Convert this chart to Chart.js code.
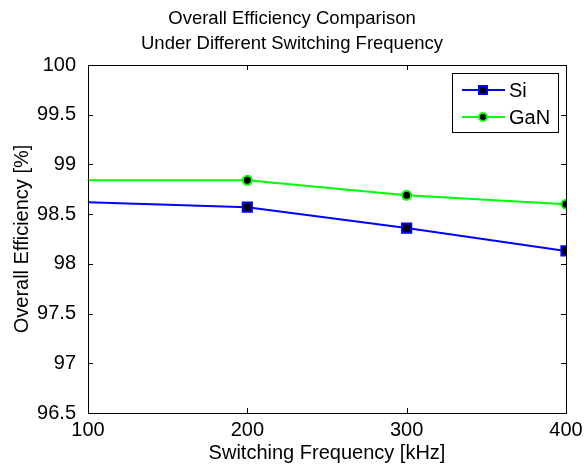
<!DOCTYPE html>
<html>
<head>
<meta charset="utf-8">
<script src="https://cdn.jsdelivr.net/npm/chart.js@4/dist/chart.umd.min.js"></script>
<style>
  body { margin: 0; background: #fff; }
  canvas { display: block; }
</style>
</head>
<body>
<canvas id="chart" width="584" height="466"></canvas>
<script>
const frequencies = [100, 200, 300, 400];
const siEfficiency = [98.62, 98.57, 98.36, 98.13];
const ganEfficiency = [98.84, 98.84, 98.69, 98.60];
const yTicks = [96.5, 97, 97.5, 98, 98.5, 99, 99.5, 100];
const titleLines = ["Overall Efficiency Comparison", "Under Different Switching Frequency"];

const FONT = "Liberation Sans, Arial, sans-serif";

const toPoints = (vals) => vals.map((v, i) => ({ x: frequencies[i], y: v }));

// first point sits on the axis edge with no marker in the reference
const hideFirst = (r) => (ctx) => (ctx.dataIndex === 0 ? 0 : r);

const boxPlugin = {
  id: "box",
  afterDraw(chart) {
    const { ctx, chartArea: a, scales } = chart;
    ctx.save();
    ctx.strokeStyle = "#000";
    ctx.lineWidth = 1;
    ctx.strokeRect(a.left + 0.5, a.top + 0.5, a.right - a.left, a.bottom - a.top);
    ctx.beginPath();
    const t = 5;
    frequencies.forEach((f) => {
      const x = Math.round(scales.x.getPixelForValue(f)) + 0.5;
      ctx.moveTo(x, a.bottom); ctx.lineTo(x, a.bottom - t);
      ctx.moveTo(x, a.top); ctx.lineTo(x, a.top + t);
    });
    yTicks.forEach((v) => {
      const y = Math.round(scales.y.getPixelForValue(v)) + 0.5;
      ctx.moveTo(a.left, y); ctx.lineTo(a.left + t, y);
      ctx.moveTo(a.right, y); ctx.lineTo(a.right - t, y);
    });
    ctx.stroke();

    // title
    ctx.fillStyle = "#000";
    ctx.font = "18.5px " + FONT;
    ctx.textAlign = "center";
    ctx.textBaseline = "middle";
    ctx.fillText(titleLines[0], chart.width / 2, 19);
    ctx.fillText(titleLines[1], chart.width / 2, 44);

    // legend
    const lx = 452, ly = 73, lw = 106, lh = 59;
    ctx.fillStyle = "#fff";
    ctx.fillRect(lx, ly, lw, lh);
    ctx.strokeRect(lx + 0.5, ly + 0.5, lw, lh);
    chart.data.datasets.forEach((ds, i) => {
      const y = ly + 17 + i * 27;
      ctx.strokeStyle = ds.borderColor;
      ctx.lineWidth = 2;
      ctx.beginPath();
      ctx.moveTo(lx + 10, y); ctx.lineTo(lx + 53, y);
      ctx.stroke();
      ctx.fillStyle = "#000";
      ctx.strokeStyle = ds.pointBorderColor;
      ctx.lineWidth = 2;
      if (ds.pointStyle === "rect") {
        ctx.fillRect(lx + 27, y - 4, 8, 8);
        ctx.strokeRect(lx + 27, y - 4, 8, 8);
      } else {
        ctx.beginPath();
        ctx.arc(lx + 31, y, 4, 0, Math.PI * 2);
        ctx.fill();
        ctx.stroke();
      }
      ctx.fillStyle = "#000";
      ctx.font = "20px " + FONT;
      ctx.textAlign = "left";
      ctx.fillText(ds.label, lx + 57, y + 1);
    });
    ctx.restore();
  }
};

new Chart(document.getElementById("chart").getContext("2d"), {
  type: "line",
  data: {
    datasets: [
      {
        label: "Si",
        data: toPoints(siEfficiency),
        borderColor: "#0000ff",
        borderWidth: 2,
        pointStyle: "rect",
        pointRadius: hideFirst(6.5),
        pointBackgroundColor: "#000",
        pointBorderColor: "#0000ff",
        pointBorderWidth: 2,
        tension: 0
      },
      {
        label: "GaN",
        data: toPoints(ganEfficiency),
        borderColor: "#00ff00",
        borderWidth: 2,
        pointStyle: "circle",
        pointRadius: hideFirst(4.5),
        pointBackgroundColor: "#000",
        pointBorderColor: "#00ff00",
        pointBorderWidth: 2,
        tension: 0
      }
    ]
  },
  options: {
    responsive: false,
    animation: false,
    layout: { padding: { top: 65, right: 18, left: 0, bottom: 0 } },
    plugins: { legend: { display: false }, tooltip: { enabled: false } },
    scales: {
      x: {
        type: "linear",
        min: 100,
        max: 400,
        afterBuildTicks: (s) => { s.ticks = frequencies.map((v) => ({ value: v })); },
        afterFit: (s) => { s.height = 53; },
        grid: { display: false },
        border: { display: false },
        ticks: { color: "#000", font: { family: FONT, size: 20 }, padding: -3, maxRotation: 0 },
        title: {
          display: true,
          text: "Switching Frequency [kHz]",
          color: "#000",
          font: { family: FONT, size: 20 },
          padding: { top: 0, bottom: 1 }
        }
      },
      y: {
        min: 96.5,
        max: 100,
        afterBuildTicks: (s) => { s.ticks = yTicks.map((v) => ({ value: v })); },
        afterFit: (s) => { s.width = 88; },
        grid: { display: false },
        border: { display: false },
        ticks: {
          color: "#000",
          font: { family: FONT, size: 20 },
          padding: 4,
          callback: (v) => String(v)
        },
        title: {
          display: true,
          text: "Overall Efficiency [%]",
          color: "#000",
          font: { family: FONT, size: 20 },
          padding: { top: 10, bottom: 0 }
        }
      }
    }
  },
  plugins: [boxPlugin]
});
</script>
</body>
</html>
